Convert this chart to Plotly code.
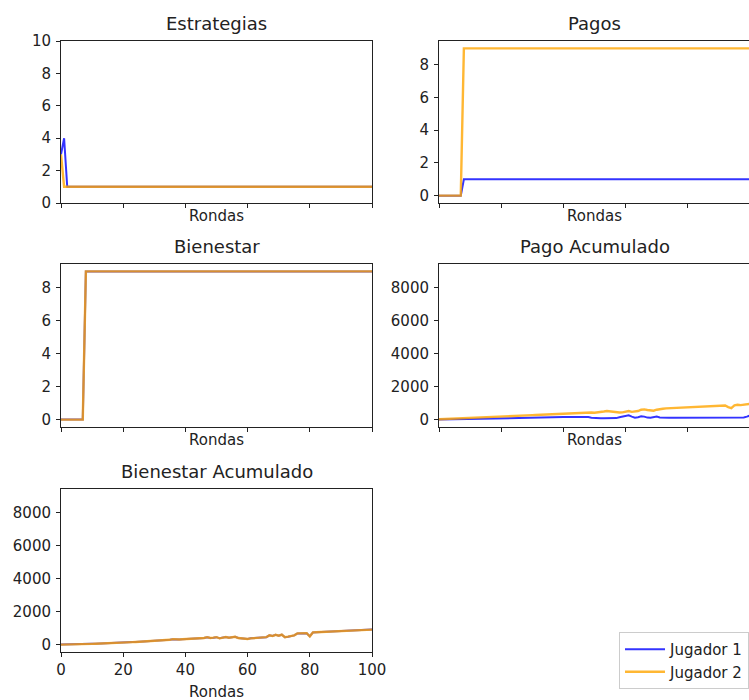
import plotly.graph_objects as go

# ---------------------------------------------------------------- data
rondas = list(range(101))

estrategias_j1 = [
    3, 4, 1, 1, 1, 1, 1, 1, 1, 1,
    1, 1, 1, 1, 1, 1, 1, 1, 1, 1,
    1, 1, 1, 1, 1, 1, 1, 1, 1, 1,
    1, 1, 1, 1, 1, 1, 1, 1, 1, 1,
    1, 1, 1, 1, 1, 1, 1, 1, 1, 1,
    1, 1, 1, 1, 1, 1, 1, 1, 1, 1,
    1, 1, 1, 1, 1, 1, 1, 1, 1, 1,
    1, 1, 1, 1, 1, 1, 1, 1, 1, 1,
    1, 1, 1, 1, 1, 1, 1, 1, 1, 1,
    1, 1, 1, 1, 1, 1, 1, 1, 1, 1,
    1,
]
estrategias_j2 = [
    3, 1, 1, 1, 1, 1, 1, 1, 1, 1,
    1, 1, 1, 1, 1, 1, 1, 1, 1, 1,
    1, 1, 1, 1, 1, 1, 1, 1, 1, 1,
    1, 1, 1, 1, 1, 1, 1, 1, 1, 1,
    1, 1, 1, 1, 1, 1, 1, 1, 1, 1,
    1, 1, 1, 1, 1, 1, 1, 1, 1, 1,
    1, 1, 1, 1, 1, 1, 1, 1, 1, 1,
    1, 1, 1, 1, 1, 1, 1, 1, 1, 1,
    1, 1, 1, 1, 1, 1, 1, 1, 1, 1,
    1, 1, 1, 1, 1, 1, 1, 1, 1, 1,
    1,
]

pagos_j1 = [
    0, 0, 0, 0, 0, 0, 0, 0, 1, 1,
    1, 1, 1, 1, 1, 1, 1, 1, 1, 1,
    1, 1, 1, 1, 1, 1, 1, 1, 1, 1,
    1, 1, 1, 1, 1, 1, 1, 1, 1, 1,
    1, 1, 1, 1, 1, 1, 1, 1, 1, 1,
    1, 1, 1, 1, 1, 1, 1, 1, 1, 1,
    1, 1, 1, 1, 1, 1, 1, 1, 1, 1,
    1, 1, 1, 1, 1, 1, 1, 1, 1, 1,
    1, 1, 1, 1, 1, 1, 1, 1, 1, 1,
    1, 1, 1, 1, 1, 1, 1, 1, 1, 1,
    1,
]
pagos_j2 = [
    0, 0, 0, 0, 0, 0, 0, 0, 9, 9,
    9, 9, 9, 9, 9, 9, 9, 9, 9, 9,
    9, 9, 9, 9, 9, 9, 9, 9, 9, 9,
    9, 9, 9, 9, 9, 9, 9, 9, 9, 9,
    9, 9, 9, 9, 9, 9, 9, 9, 9, 9,
    9, 9, 9, 9, 9, 9, 9, 9, 9, 9,
    9, 9, 9, 9, 9, 9, 9, 9, 9, 9,
    9, 9, 9, 9, 9, 9, 9, 9, 9, 9,
    9, 9, 9, 9, 9, 9, 9, 9, 9, 9,
    9, 9, 9, 9, 9, 9, 9, 9, 9, 9,
    9,
]

# welfare is shared by both players
bienestar = [
    0, 0, 0, 0, 0, 0, 0, 0, 9, 9,
    9, 9, 9, 9, 9, 9, 9, 9, 9, 9,
    9, 9, 9, 9, 9, 9, 9, 9, 9, 9,
    9, 9, 9, 9, 9, 9, 9, 9, 9, 9,
    9, 9, 9, 9, 9, 9, 9, 9, 9, 9,
    9, 9, 9, 9, 9, 9, 9, 9, 9, 9,
    9, 9, 9, 9, 9, 9, 9, 9, 9, 9,
    9, 9, 9, 9, 9, 9, 9, 9, 9, 9,
    9, 9, 9, 9, 9, 9, 9, 9, 9, 9,
    9, 9, 9, 9, 9, 9, 9, 9, 9, 9,
    9,
]

pago_acum_j1 = [
    0, 5, 10, 15, 20, 25, 30, 35, 40, 45,
    50, 55, 60, 65, 70, 75, 80, 85, 90, 95,
    100, 100, 105, 110, 110, 115, 120, 120, 125, 130,
    130, 135, 135, 140, 140, 145, 145, 150, 150, 155,
    155, 155, 160, 160, 160, 160, 160, 160, 150, 110,
    90, 80, 80, 80, 80, 80, 80, 90, 140, 180,
    230, 260, 180, 120, 140, 200, 180, 120, 110, 150,
    180, 130, 110, 110, 110, 110, 110, 110, 110, 110,
    110, 110, 110, 110, 110, 110, 110, 110, 110, 110,
    110, 110, 110, 115, 115, 115, 115, 120, 130, 180,
    250,
]
pago_acum_j2 = [
    20, 30, 40, 50, 60, 70, 80, 90, 100, 110,
    120, 130, 140, 150, 160, 165, 175, 185, 195, 205,
    215, 220, 225, 230, 235, 240, 245, 250, 260, 265,
    270, 275, 285, 290, 300, 310, 320, 330, 330, 340,
    345, 350, 360, 370, 380, 390, 410, 430, 460, 430,
    420, 430, 450, 490, 520, 500, 440, 420, 430, 440,
    480, 520, 470, 480, 520, 600, 620, 580, 560, 540,
    600, 650, 660, 680, 690, 700, 705, 720, 740, 750,
    760, 770, 780, 790, 800, 805, 810, 820, 830, 835,
    840, 850, 860, 760, 700, 860, 900, 880, 910, 940,
    960,
]

bienestar_acum = [
    0, 0, 5, 10, 15, 20, 25, 30, 35, 40,
    45, 50, 55, 60, 70, 80, 90, 100, 110, 120,
    130, 140, 145, 150, 160, 170, 180, 185, 190, 210,
    230, 240, 250, 260, 270, 290, 330, 300, 310, 320,
    330, 340, 350, 360, 370, 380, 400, 450, 400, 420,
    450, 380, 420, 460, 420, 430, 470, 400, 380, 360,
    340, 380, 400, 410, 420, 440, 450, 560, 520, 590,
    540, 600, 450, 480, 520, 560, 680, 690, 700, 690,
    500, 740, 750, 760, 770, 780, 790, 800, 805, 810,
    815, 820, 830, 840, 850, 860, 870, 880, 890, 900,
    910,
]

jugadores = ["Jugador 1", "Jugador 2"]
colores = ["rgba(0,0,255,0.8)", "rgba(255,165,0,0.8)"]
grosores = [2, 2.4]

ticks_xr = [0, 20, 40, 60, 80, 100]
ticks_small = [0, 2, 4, 6, 8]
ticks_estr = [0, 2, 4, 6, 8, 10]
ticks_acum = [0, 2000, 4000, 6000, 8000]

# ---------------------------------------------------------------- layout geometry
W, H = 749, 700
FONT = "DejaVu Sans"
INK = "#222222"

def px_x(p):
    return p / W

def px_y(p):
    return 1 - p / H

cols = [(61, 372), (439, 750)]
rows = [(41, 203), (264, 427), (489, 652)]

panels = [
    # (title, row, col, series j1, series j2, yrange, ytick values)
    ("Estrategias", 0, 0, estrategias_j1, estrategias_j2, [0, 10], ticks_estr),
    ("Pagos", 0, 1, pagos_j1, pagos_j2, [-0.45, 9.45], ticks_small),
    ("Bienestar", 1, 0, bienestar, bienestar, [-0.45, 9.45], ticks_small),
    ("Pago Acumulado", 1, 1, pago_acum_j1, pago_acum_j2, [-450, 9450], ticks_acum),
    ("Bienestar Acumulado", 2, 0, bienestar_acum, bienestar_acum, [-450, 9450], ticks_acum),
]

fig = go.Figure()
annotations = []
layout_axes = {}

for i, (title, r, c, s1, s2, yr, yt) in enumerate(panels):
    n = "" if i == 0 else str(i + 1)
    x0, x1 = cols[c]
    y0, y1 = rows[r]
    x1_vis = min(x1, W)
    # the right-hand column runs past the page edge
    xmax = 100 * (x1_vis - x0) / (x1 - x0)
    bottom = (i == 4)

    for k, serie in enumerate([s1, s2]):
        fig.add_trace(go.Scatter(
            x=rondas, y=serie, mode="lines",
            name=jugadores[k], legendgroup=jugadores[k],
            showlegend=(i == 0),
            line=dict(color=colores[k], width=grosores[k]),
            xaxis="x" + n, yaxis="y" + n,
            hoverinfo="skip",
        ))

    layout_axes["xaxis" + n] = dict(
        domain=[px_x(x0), px_x(x1_vis)], anchor="y" + n,
        range=[0, xmax], tickvals=ticks_xr, ticktext=[str(v) for v in ticks_xr],
        showticklabels=bottom, ticks="outside", ticklen=4, tickwidth=1,
        tickcolor=INK, showline=True, linecolor=INK, linewidth=1,
        mirror=True, showgrid=False, zeroline=False, automargin=False,
        tickfont=dict(family=FONT, size=15, color=INK),
    )
    layout_axes["yaxis" + n] = dict(
        domain=[px_y(y1), px_y(y0)], anchor="x" + n,
        range=yr, tickvals=yt, ticktext=[str(v) for v in yt],
        ticks="outside", ticklen=4, tickwidth=1, tickcolor=INK,
        showline=True, linecolor=INK, linewidth=1,
        mirror=(c == 0), showgrid=False, zeroline=False, automargin=False,
        tickfont=dict(family=FONT, size=15, color=INK),
        ticklabelstandoff=2,
    )

    annotations.append(dict(
        text=title, xref="paper", yref="paper",
        x=px_x((x0 + x1) / 2), y=px_y(y0),
        xanchor="center", yanchor="bottom", yshift=5, showarrow=False,
        font=dict(family=FONT, size=18, color=INK),
    ))
    annotations.append(dict(
        text="Rondas", xref="paper", yref="paper",
        x=px_x((x0 + x1) / 2), y=px_y(y1),
        xanchor="center", yanchor="top",
        yshift=-29 if bottom else -2, showarrow=False,
        font=dict(family=FONT, size=15, color=INK),
    ))

fig.update_layout(
    width=W, height=H,
    margin=dict(l=0, r=0, t=0, b=0, autoexpand=False),
    paper_bgcolor="white", plot_bgcolor="white",
    font=dict(family=FONT, size=15, color=INK),
    annotations=annotations,
    showlegend=True,
    legend=dict(
        x=px_x(619), y=px_y(632), xanchor="left", yanchor="top",
        bgcolor="white", bordercolor="#cccccc", borderwidth=1,
        font=dict(family=FONT, size=15, color=INK),
        itemwidth=40, tracegroupgap=0,
    ),
    **layout_axes,
)

fig.write_html("out.html")
